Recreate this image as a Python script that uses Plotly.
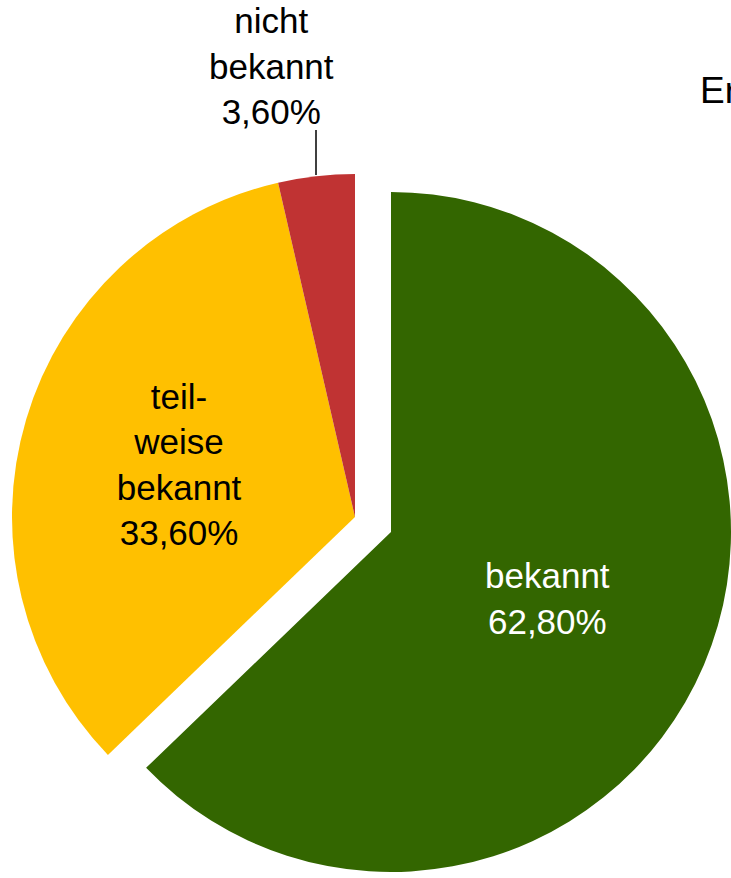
import plotly.graph_objects as go

# ---- data ----
categories = ["bekannt", "teilweise bekannt", "nicht bekannt"]
display_labels = ["bekannt", "teil-<br>weise<br>bekannt", "nicht<br>bekannt"]
shares = [62.8, 33.6, 3.6]
colors = ["#336600", "#FFC000", "#C03333"]
title_text = "Er"

W, H = 731, 878
FONT = "Liberation Sans, Arial, sans-serif"
LABEL_SIZE = 35
TRANSPARENT = "rgba(0,0,0,0)"

def px_dom_x(a, b):
    return [a / W, b / W]

def px_dom_y(top, bottom):
    return [1 - bottom / H, 1 - top / H]

fig = go.Figure()

# pulled-out slice (first category) drawn as its own pie, offset from the rest
pulled = 0
fig.add_trace(go.Pie(
    labels=categories,
    values=shares,
    customdata=display_labels,
    sort=False,
    direction="clockwise",
    rotation=0,
    marker=dict(colors=[c if i == pulled else TRANSPARENT for i, c in enumerate(colors)],
                line=dict(width=0)),
    texttemplate=["%{customdata}<br>%{value:.2f}%" if i == pulled else "" for i in range(len(shares))],
    textposition="inside",
    insidetextorientation="horizontal",
    insidetextfont=dict(family=FONT, size=LABEL_SIZE, color="white"),
    hoverinfo="skip",
    showlegend=False,
    domain=dict(x=px_dom_x(51, 731), y=px_dom_y(192, 872)),
))

# remaining slices
inside_idx = [1]
fig.add_trace(go.Pie(
    labels=categories,
    values=shares,
    customdata=display_labels,
    sort=False,
    direction="clockwise",
    rotation=0,
    marker=dict(colors=[TRANSPARENT if i == pulled else c for i, c in enumerate(colors)],
                line=dict(width=0)),
    texttemplate=["%{customdata}<br>%{value:.2f}%" if i in inside_idx else "" for i in range(len(shares))],
    textposition="inside",
    insidetextorientation="horizontal",
    insidetextfont=dict(family=FONT, size=LABEL_SIZE, color="black"),
    hoverinfo="skip",
    showlegend=False,
    domain=dict(x=px_dom_x(12, 698), y=px_dom_y(174, 860)),
))

# outside label for the small slice
small = 2
fig.add_annotation(
    xref="paper", yref="paper",
    x=271 / W, y=1 - 66 / H,
    xanchor="center", yanchor="middle",
    text=f"{display_labels[small]}<br>{shares[small]:.2f}%".replace(".", ","),
    showarrow=False,
    font=dict(family=FONT, size=LABEL_SIZE, color="black"),
)
fig.add_shape(
    type="line", xref="paper", yref="paper",
    x0=316 / W, x1=316 / W, y0=1 - 130 / H, y1=1 - 175 / H,
    line=dict(color="black", width=1.5),
)

# (cut-off) title
fig.add_annotation(
    xref="paper", yref="paper",
    x=698 / W, y=1 - 90 / H,
    xanchor="left", yanchor="middle",
    text=title_text, showarrow=False,
    font=dict(family=FONT, size=37, color="black"),
)

fig.update_layout(
    width=W, height=H,
    margin=dict(l=0, r=0, t=0, b=0),
    paper_bgcolor="white",
    plot_bgcolor="white",
    separators=",.",
    font=dict(family=FONT),
)

fig.write_html("out.html")
